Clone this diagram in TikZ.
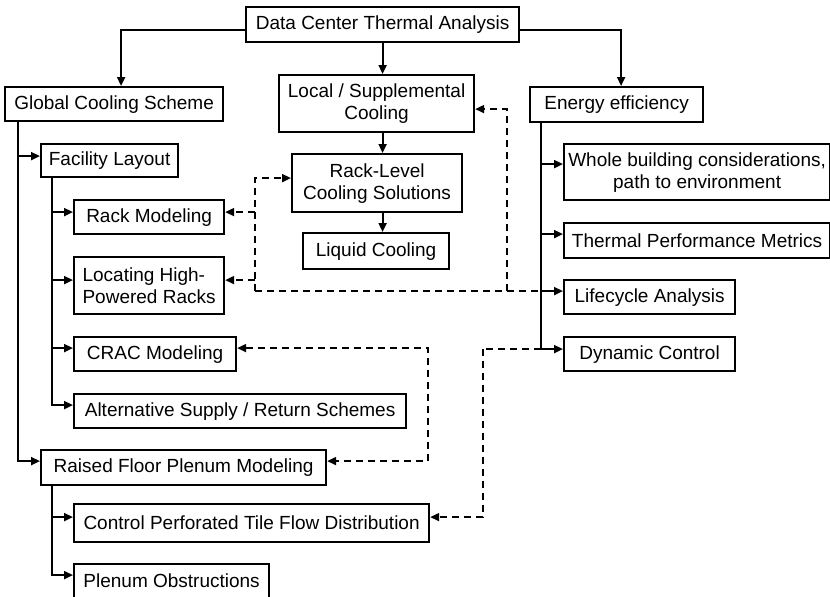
\documentclass[tikz,border=0pt]{standalone}
\usepackage{fontspec}
\setmainfont{Liberation Sans}
\usetikzlibrary{arrows.meta}

\tikzset{
  box/.style={draw, line width=2.2pt, inner sep=0pt, anchor=north west,
    font=\fontsize{19}{22}\selectfont, align=center},
  tip/.tip={Triangle[length=9pt,width=8pt]},
  conn/.style={line width=2pt, -tip},
  dashline/.style={line width=2pt, dash pattern=on 7pt off 5pt},
}

\begin{document}
\begin{tikzpicture}[x=1pt,y=-1pt]
\useasboundingbox[fill=white] (0,0) rectangle (830,597);
\begin{scope}
\clip (0,0) rectangle (830,597);

% boxes
\node[box, minimum width=273pt, minimum height=35pt] (top) at (245,6) {Data Center Thermal Analysis};
\node[box, minimum width=218pt, minimum height=34pt] (gcs) at (4,86) {Global Cooling Scheme};
\node[box, minimum width=195pt, minimum height=57pt] (local) at (278,74) {Local / Supplemental\\Cooling};
\node[box, minimum width=170pt, minimum height=58pt] (racklevel) at (291,153) {Rack-Level\\Cooling Solutions};
\node[box, minimum width=146pt, minimum height=36pt] (liquid) at (302,232) {Liquid Cooling};
\node[box, minimum width=173pt, minimum height=35pt] (energy) at (529,86) {Energy efficiency};
\node[box, minimum width=266pt, minimum height=56pt] (whole) at (563,143) {Whole building considerations,\\path to environment};
\node[box, minimum width=266pt, minimum height=35pt] (tpm) at (563,222) {Thermal Performance Metrics};
\node[box, minimum width=171pt, minimum height=34pt] (life) at (563,279) {Lifecycle Analysis};
\node[box, minimum width=171pt, minimum height=34pt] (dyn) at (563,336) {Dynamic Control};
\node[box, minimum width=137pt, minimum height=33pt] (fac) at (40,143) {Facility Layout};
\node[box, minimum width=150pt, minimum height=34pt] (rackmod) at (73,199) {Rack Modeling};
\node[box, minimum width=150pt, minimum height=57pt, align=left] (locating) at (73,256) {Locating High-\\Powered Racks};
\node[box, minimum width=162pt, minimum height=34pt] (crac) at (73,336) {CRAC Modeling};
\node[box, minimum width=332pt, minimum height=34pt] (alt) at (73,393) {Alternative Supply / Return Schemes};
\node[box, minimum width=285pt, minimum height=35pt] (raised) at (40,449) {Raised Floor Plenum Modeling};
\node[box, minimum width=355pt, minimum height=38pt] (control) at (73,503) {Control Perforated Tile Flow Distribution};
\node[box, minimum width=195pt, minimum height=42pt, text depth=0pt] (plenum) at (73,563) {\raisebox{8pt}{Plenum Obstructions}};

% top level branches
\draw[conn] ([yshift=-5.5pt]top.west) -| ([xshift=7pt]gcs.north);
\draw[conn] ([yshift=-5.5pt]top.east) -| ([xshift=4.5pt]energy.north);
\draw[conn] (top.south) -- (top.south |- local.north);
\draw[conn] (top.south |- local.south) -- (top.south |- racklevel.north);
\draw[conn] (top.south |- racklevel.south) -- (top.south |- liquid.north);

% trunk start points
\coordinate (gT) at ([xshift=14pt]gcs.south west);
\coordinate (fT) at ([xshift=12pt]fac.south west);
\coordinate (rT) at ([xshift=12pt]raised.south west);
\coordinate (eT) at ([xshift=12pt]energy.south west);

% arrow entry points
\coordinate (facW) at ([yshift=4.5pt]fac.west);
\coordinate (raW) at ([yshift=6.5pt]raised.west);
\coordinate (rmW) at ([yshift=5pt]rackmod.west);
\coordinate (loW) at ([yshift=5.5pt]locating.west);
\coordinate (crW) at ([yshift=6pt]crac.west);
\coordinate (alW) at ([yshift=6pt]alt.west);
\coordinate (coW) at ([yshift=6pt]control.west);
\coordinate (plW) at ([yshift=10pt]plenum.west);
\coordinate (whW) at ([yshift=8pt]whole.west);
\coordinate (tpW) at ([yshift=6.5pt]tpm.west);
\coordinate (liW) at ([yshift=6pt]life.west);
\coordinate (dyW) at ([yshift=5pt]dyn.west);

\coordinate (rlW) at ([yshift=5pt]racklevel.west);
\coordinate (lcE) at ([yshift=-5.5pt]local.east);
\coordinate (rmE) at ([yshift=5pt]rackmod.east);
\coordinate (loE) at ([yshift=5.5pt]locating.east);
\coordinate (crE) at ([yshift=6pt]crac.east);
\coordinate (raE) at ([yshift=6.5pt]raised.east);
\coordinate (coE) at ([yshift=6pt]control.east);

% solid tree connectors
\draw[conn] (gT) |- (facW);
\draw[conn] (gT) |- (raW);
\draw[conn] (fT) |- (rmW);
\draw[conn] (fT) |- (loW);
\draw[conn] (fT) |- (crW);
\draw[conn] (fT) |- (alW);
\draw[conn] (rT) |- (coW);
\draw[conn] (rT) |- (plW);
\draw[conn] (eT) |- (whW);
\draw[conn] (eT) |- (tpW);
\draw[conn] (eT) |- (liW);
\draw[conn] (eT) |- (dyW);

% dashed cross links
\coordinate (dA) at (255,0);
\coordinate (dB) at (507,0);
\coordinate (dC) at (428,0);
\coordinate (dD) at (483,0);

\draw[dashline, -tip] (liW -| dA) |- (rlW);
\draw[dashline, -tip] (rmE -| dA) -- (rmE);
\draw[dashline, -tip] (loE -| dA) -- (loE);
\draw[dashline] (liW -| dA) -- (liW -| eT);
\draw[dashline, -tip] (liW -| dB) |- (lcE);

\draw[dashline, tip-tip] (crE) -- (crE -| dC) -- (raE -| dC) -- (raE);

\draw[dashline] (dyW -| eT) -- (dyW -| dD);
\draw[dashline, -tip] (dyW -| dD) -- (coE -| dD) -- (coE);
\end{scope}
\end{tikzpicture}
\end{document}
